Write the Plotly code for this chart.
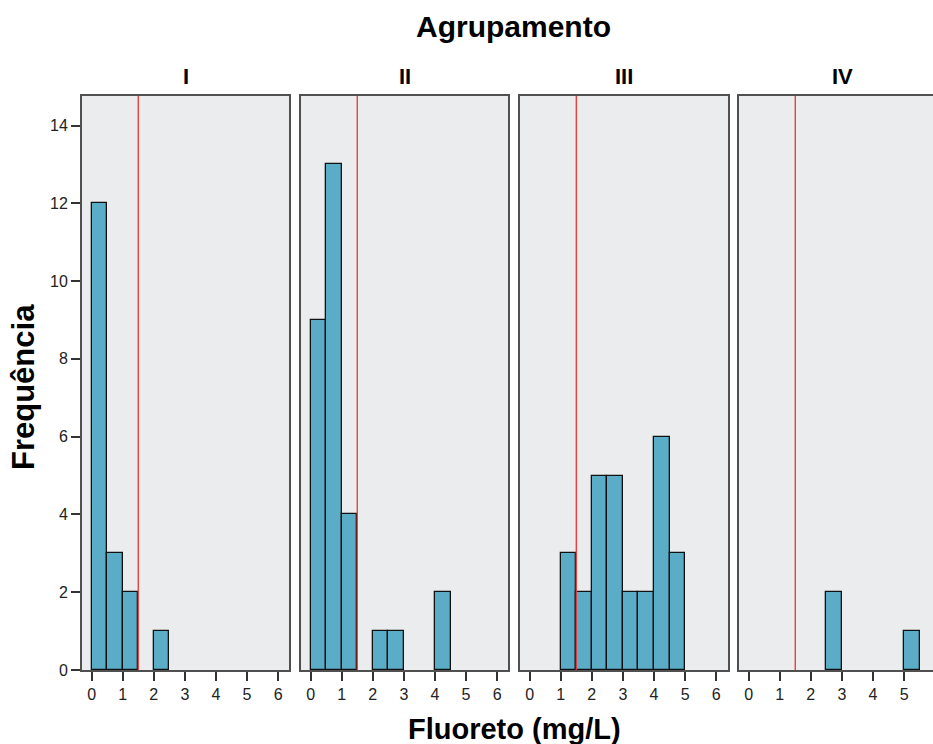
import plotly.graph_objects as go

# ---- data ----
groups = ["I", "II", "III", "IV"]
bin_width = 0.5
bin_starts = {
    "I":   [0.0, 0.5, 1.0, 2.0],
    "II":  [0.0, 0.5, 1.0, 2.0, 2.5, 4.0],
    "III": [1.0, 1.5, 2.0, 2.5, 3.0, 3.5, 4.0, 4.5],
    "IV":  [2.5, 5.0],
}
counts = {
    "I":   [12, 3, 2, 1],
    "II":  [9, 13, 4, 1, 1, 2],
    "III": [3, 2, 5, 5, 2, 2, 6, 3],
    "IV":  [2, 1],
}
reference_limit = 1.5
x_ticks = [0, 1, 2, 3, 4, 5, 6]
y_ticks = [0, 2, 4, 6, 8, 10, 12, 14]

# ---- styling / layout ----
W, H = 933, 744
FONT = "Liberation Sans, Arial, sans-serif"
bar_color = "#5aacc7"
frame_color = "#505050"
bg = "#ebeced"

def py(px):
    """pixel-from-top -> paper y"""
    return (H - px) / H

panel_px = [(82, 289), (301, 508), (520, 728), (739, 933)]
x_ranges = [(-0.31, 6.35), (-0.31, 6.35), (-0.31, 6.38), (-0.31, 5.93)]
y_dom = [py(670), py(96)]
y_range = [0, 14.76]

fig = go.Figure()
for i, g in enumerate(groups):
    n = i + 1
    xs = [s + bin_width / 2 for s in bin_starts[g]]
    xr = f"x{n}" if n > 1 else "x"
    yr = f"y{n}" if n > 1 else "y"
    fig.add_trace(go.Bar(
        x=xs, y=counts[g], width=bin_width,
        marker=dict(color=bar_color, line=dict(color="#111111", width=1.3)),
        xaxis=xr, yaxis=yr, showlegend=False, hoverinfo="x+y",
    ))
    fig.add_shape(type="line", xref=xr, yref=f"{yr} domain",
                  x0=reference_limit, x1=reference_limit, y0=0, y1=1,
                  line=dict(color="#ee3030", width=1.3), layer="above")
    d0, d1 = panel_px[i]
    xa = dict(domain=[d0 / W, d1 / W], range=list(x_ranges[i]),
              tickmode="array", tickvals=x_ticks, ticktext=[str(t) for t in x_ticks],
              ticks="outside", ticklen=9, tickwidth=2, tickcolor="#333333",
              tickfont=dict(family=FONT, size=16, color="#222222"),
              showline=True, mirror=True, linecolor=frame_color, linewidth=2,
              showgrid=False, zeroline=False, anchor=yr, fixedrange=True,
              automargin=False)
    ya = dict(domain=list(y_dom), range=y_range, showgrid=False, zeroline=False,
              showline=True, mirror=(n < 4), linecolor=frame_color, linewidth=2,
              anchor=xr, fixedrange=True, automargin=False)
    if n == 1:
        ya.update(tickmode="array", tickvals=y_ticks, ticks="outside", ticklen=9,
                  tickwidth=2, tickcolor="#333333",
                  tickfont=dict(family=FONT, size=16, color="#222222"))
    else:
        ya.update(showticklabels=False, ticks="")
    fig.layout[f"xaxis{n}" if n > 1 else "xaxis"] = xa
    fig.layout[f"yaxis{n}" if n > 1 else "yaxis"] = ya
    fig.add_annotation(text=f"<b>{g}</b>", xref="paper", yref="paper",
                       x=(d0 + (d1 if n < 4 else 946)) / 2 / W, y=py(76),
                       showarrow=False, xanchor="center", yanchor="middle",
                       font=dict(family=FONT, size=22, color="#000000"))

fig.add_annotation(text="<b>Agrupamento</b>", xref="paper", yref="paper",
                   x=513 / W, y=py(27), showarrow=False,
                   xanchor="center", yanchor="middle",
                   font=dict(family=FONT, size=30, color="#000000"))
fig.add_annotation(text="<b>Fluoreto (mg/L)</b>", xref="paper", yref="paper",
                   x=514 / W, y=py(729), showarrow=False,
                   xanchor="center", yanchor="middle",
                   font=dict(family=FONT, size=29, color="#000000"))
fig.add_annotation(text="<b>Frequência</b>", xref="paper", yref="paper",
                   x=23 / W, y=py(387), showarrow=False, textangle=-90,
                   xanchor="center", yanchor="middle",
                   font=dict(family=FONT, size=31, color="#000000"))

fig.update_layout(width=W, height=H, margin=dict(l=0, r=0, t=0, b=0, pad=0),
                  paper_bgcolor="white", plot_bgcolor=bg, bargap=0)
fig.write_html("out.html")
